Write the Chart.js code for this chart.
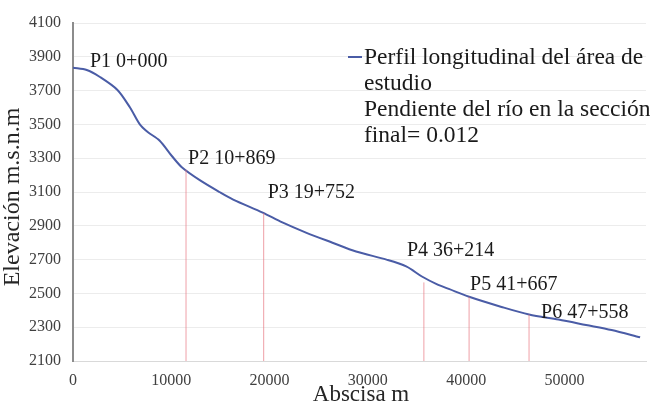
<!DOCTYPE html>
<html>
<head>
<meta charset="utf-8">
<script src="https://cdn.jsdelivr.net/npm/chart.js"></script>
<style>
  html, body { margin: 0; padding: 0; background: #fff; }
  #wrap { width: 650px; height: 403px; }
</style>
</head>
<body>
<div id="wrap"><canvas id="chart" width="650" height="403"></canvas></div>
<script>
// perfil longitudinal: abscisa (m) y elevación (m.s.n.m)
const abscisa = [0, 1400, 2700, 4500, 5800, 6800, 7600, 8800, 10100, 11100, 12900, 14900, 16300, 19300,
  21300, 23700, 26400, 28800, 31900, 33900, 35500, 37000, 38300, 40300, 43600, 46400, 49400, 52200, 54800, 57700];
const elevacion = [3835, 3822, 3782, 3705, 3600, 3500, 3455, 3405, 3310, 3245, 3170, 3100, 3055, 2978,
  2920, 2860, 2800, 2748, 2700, 2660, 2600, 2555, 2525, 2480, 2420, 2375, 2345, 2313, 2283, 2240];

// puntos de control (posición en la gráfica y etiqueta)
const puntosNombre = ["P1 0+000", "P2 10+869", "P3 19+752", "P4 36+214", "P5 41+667", "P6 47+558"];
const puntosX = [0, 11500, 19400, 35700, 40300, 46400];
const puntosY = [3835, 3232, 2975, 2565, 2480, 2375];

const yTicks = [2100, 2300, 2500, 2700, 2900, 3100, 3300, 3500, 3700, 3900, 4100];
const xTicks = [0, 10000, 20000, 30000, 40000, 50000];

const leyenda = ["Perfil longitudinal del área de", "estudio", "Pendiente del río en la sección", "final= 0.012"];

const SERIF = "'Liberation Serif', 'Times New Roman', serif";
const AZUL = "#4a5ca6";

// desplazamientos de las etiquetas respecto al punto (px)
const offsets = [[17, -6], [2, -11], [4, -20], [-17, -32], [1, -12], [12, -2]];

const perfil = abscisa.map((x, i) => ({ x: x, y: elevacion[i] }));

// líneas verticales rojas desde el eje hasta el perfil
const verticales = puntosX.slice(1).map((x, i) => ({
  data: [{ x: x, y: 2100 }, { x: x, y: puntosY[i + 1] }],
  showLine: true,
  borderColor: "rgba(232,120,130,0.7)",
  borderWidth: 1,
  pointRadius: 0,
  fill: false,
}));

const etiquetasPlugin = {
  id: "etiquetas",
  afterDatasetsDraw(chart) {
    const ctx = chart.ctx;
    const xs = chart.scales.x, ys = chart.scales.y;
    ctx.save();
    ctx.font = "20px " + SERIF;
    ctx.fillStyle = "#1a1a1a";
    ctx.textBaseline = "middle";
    ctx.textAlign = "left";
    puntosNombre.forEach((t, i) => {
      ctx.fillText(t, xs.getPixelForValue(puntosX[i]) + offsets[i][0], ys.getPixelForValue(puntosY[i]) + offsets[i][1]);
    });

    // leyenda
    ctx.strokeStyle = AZUL;
    ctx.lineWidth = 2;
    ctx.beginPath();
    ctx.moveTo(348, 57);
    ctx.lineTo(362, 57);
    ctx.stroke();
    ctx.font = "23.5px " + SERIF;
    leyenda.forEach((t, i) => {
      ctx.fillText(t, 364, 58 + i * 25.8);
    });

    // títulos de los ejes
    ctx.fillStyle = "#262626";
    ctx.font = "23px " + SERIF;
    ctx.textAlign = "center";
    ctx.fillText("Abscisa m", 361, 395);
    ctx.translate(13, 197);
    ctx.rotate(-Math.PI / 2);
    ctx.font = "24px " + SERIF;
    ctx.fillText("Elevación m.s.n.m", 0, 0);
    ctx.restore();
  }
};

new Chart(document.getElementById("chart"), {
  type: "scatter",
  data: {
    datasets: [
      ...verticales,
      {
        data: perfil,
        showLine: true,
        borderColor: AZUL,
        borderWidth: 2,
        pointRadius: 0,
        tension: 0.3,
        fill: false,
      },
    ],
  },
  options: {
    responsive: false,
    animation: false,
    events: [],
    layout: { padding: { top: 23, right: 4, left: 0, bottom: 0 } },
    plugins: {
      legend: { display: false },
      tooltip: { enabled: false },
    },
    scales: {
      x: {
        type: "linear",
        min: 0,
        max: 58300,
        afterBuildTicks: (s) => { s.ticks = xTicks.map((v) => ({ value: v })); },
        afterFit: (s) => { s.height = 42; },
        grid: { display: false, drawTicks: false },
        border: { color: "#d9d9d9", width: 1 },
        ticks: { font: { family: SERIF, size: 16 }, color: "#404040", padding: 10, maxRotation: 0, callback: (v) => v },
      },
      y: {
        type: "linear",
        min: 2100,
        max: 4100,
        afterBuildTicks: (s) => { s.ticks = yTicks.map((v) => ({ value: v })); },
        afterFit: (s) => { s.width = 73; },
        grid: { color: "#ececec", drawTicks: false },
        border: { color: "#8c8c8c", width: 2 },
        ticks: { font: { family: SERIF, size: 16 }, color: "#404040", padding: 12, callback: (v) => v },
      },
    },
  },
  plugins: [etiquetasPlugin],
});
</script>
</body>
</html>
